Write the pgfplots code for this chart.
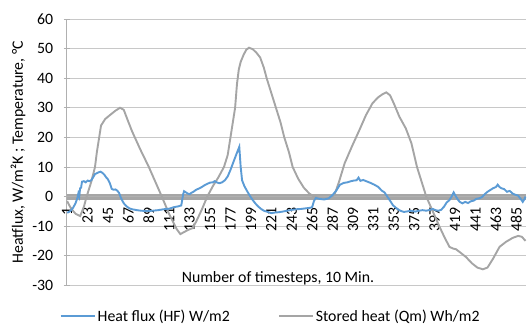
\documentclass[border=0pt]{standalone}
\usepackage{fontspec}
\setmainfont{Carlito}
\usepackage{pgfplots}
\usepackage{pgfplotstable}
\pgfplotsset{compat=1.18}
\definecolor{hfblue}{HTML}{5B9BD5}
\definecolor{qmgray}{HTML}{A5A5A5}
\definecolor{gridc}{HTML}{C8C8C8}
\definecolor{axisc}{HTML}{B0B0B0}

\pgfplotstableread{
i v
1 -5.5
4 -5
7 -4
10 -2.3
12 -0.5
13 1
14 0
15 2.8
16 3
17 5
19 5.2
21 4.8
23 5.4
25 5.2
27 5.5
29 6.5
31 7.6
33 7.9
35 8.2
37 8.4
39 8
41 7.4
43 6.5
45 5.8
47 4.5
49 2.6
51 2.3
53 2.4
55 2
57 1.2
59 -0.5
62 -2.3
65 -3.3
68 -4
71 -4.3
76 -4.6
81 -4.8
87 -4.9
93 -4.8
99 -4.6
105 -4.3
111 -4.1
116 -3.6
121 -3.3
124 -3.0
126 0.8
127 1.8
129 1.4
131 1
133 0.8
135 1.3
137 1.6
140 2.3
143 2.7
146 3.2
149 3.8
152 4.3
155 4.7
158 4.8
160 5.2
162 4.8
165 4.5
168 4.8
171 5.5
174 6.8
177 9
180 11.5
183 14
186.5 16.8
188 10
189.5 5.5
192 3.5
195 1.8
198 0.2
201 -1.2
204 -2.4
207 -3.4
210 -4.2
213 -4.8
217 -5.2
221 -5.6
225 -5.4
229 -5.3
233 -5.1
238 -4.8
243 -4.5
248 -4.3
253 -4.2
258 -4.0
263 -3.8
265 -3.6
267 -1.5
269 -0.5
273 -0.8
278 -1
283 -0.6
287 0.5
291 2
295 4
299 4.6
303 4.8
307 5.2
310 5.4
313 5.5
315 6.4
317 5.3
320 5.6
324 5.1
328 4.6
332 4
336 3.3
340 2
343 1.4
346 0
349 -1.4
352 -2.9
356 -4
360 -4.8
364 -5.2
368 -5
372 -4.8
376 -5.1
380 -4.8
384 -4.6
388 -4.8
392 -4.5
395 -4.2
398 -4.6
401 -4.8
404 -4.5
407 -3.5
410 -2
413 -1.2
415 -0.2
417.5 1.4
420 0
422 -1
424 -1.8
427 -2.3
430 -1.8
433 -2.2
436 -1.6
439 -1.4
442 -0.8
445 -0.6
448 -0.2
451 0.8
454 1.6
457 2.2
460 2.8
463 3.2
465 4
467 3.2
469 2.8
472 2.5
475 1.6
478 1.9
481 1.0
484 0.6
487 0.3
490 -0.9
492 -1.8
494 -0.8
495 0
}\heatflux

\pgfplotstableread{
i v
1 -1.5
5 -4
10 -5.8
15 -6.6
19 -3.5
22 0
27 5
31 10
33 15
35.5 20
37.5 24
42 26.2
47 27.5
53 29
58 30
62 29.3
66 26
71 22
80 15.8
89 10
96 5
103 0
111 -6
119 -11
123 -12.7
127 -12
132 -11.2
136 -10.7
140 -8.5
146 -4.5
152 0
158 3.5
164 6.5
170 10
174 14
177 20
180 26
182 30
184 38
186 43
188 45.5
191 47.8
194 49.6
197 50.3
201 49.8
205 48.6
209 47
213 43.5
216 40
221 35
226 30
231 25
235 20
240 15
244 10
250 6
256 3
262 1
267 0
273 -0.4
283 -0.6
289 0.5
294 5
300 11.2
308 17
316 22.5
323 27.5
330 31.5
336 33.5
341 34.6
345 35.2
349 34.2
353 31.5
359 27
366 23
372 18
378 10
383 5
388 0
395 -5
402 -10
408 -14
413 -17
417 -17.6
420 -17.8
425 -19
431 -20.5
437 -22.5
443 -24
449 -24.6
454 -24
460 -21
467 -17
474 -15.3
481 -14
487 -13.3
491 -13.6
495 -15
}\storedheat

\begin{document}
\begin{tikzpicture}[font=\fontsize{15.8bp}{19bp}\selectfont]
\begin{axis}[
  scale only axis,
  width=459.3bp, height=266.3bp,
  xmin=0.5, xmax=495.5,
  ymin=-30, ymax=60,
  ytick={-30,-20,...,60},
  xtick={1,23,...,485},
  minor xtick={1,...,495},
  axis x line=middle,
  axis y line=left,
  axis line style={-, axisc, line width=0.8bp},
  tick align=center,
  major tick length=6bp,
  minor tick length=6bp,
  xtick style={gray!70, line width=0.45bp},
  minor tick style={gray!55, line width=0.4bp},
  ytick style={axisc, line width=0.8bp},
  ymajorgrids,
  major grid style={gridc, line width=0.8bp},
  /pgf/number format/assume math mode=true,
  xticklabel style={rotate=90, anchor=east, text=black},
  xticklabel shift=4bp,
  yticklabel style={text=black},
  yticklabel shift=7bp,
  ylabel={Heatflux, W/m²K ; Temperature, °C},
  ylabel style={at={(axis description cs:-0.106,0.5)}, anchor=center},
  legend style={draw=none, fill=none, at={(axis description cs:0.444,-0.117)}, anchor=center,
    legend columns=2, /tikz/every even column/.append style={column sep=46bp},
    font=\fontsize{15.8bp}{19bp}\selectfont},
  legend image code/.code={\draw[#1, line width=2bp] (0bp,0bp) -- (34bp,0bp);},
]
\addplot[qmgray, line width=1.9bp, forget plot] table[x=i, y=v] {\storedheat};
\addplot[hfblue, line width=1.9bp] table[x=i, y=v] {\heatflux};
\addlegendentry{Heat flux (HF) W/m2}
\addlegendimage{qmgray}
\addlegendentry{Stored heat (Qm) Wh/m2}
\node at (axis description cs:0.46,0.027) {Number of timesteps, 10 Min.};
\end{axis}
\pgfresetboundingbox
\useasboundingbox (-66.7bp,-40.7bp) rectangle (460.3bp,285.3bp);
\end{tikzpicture}
\end{document}
